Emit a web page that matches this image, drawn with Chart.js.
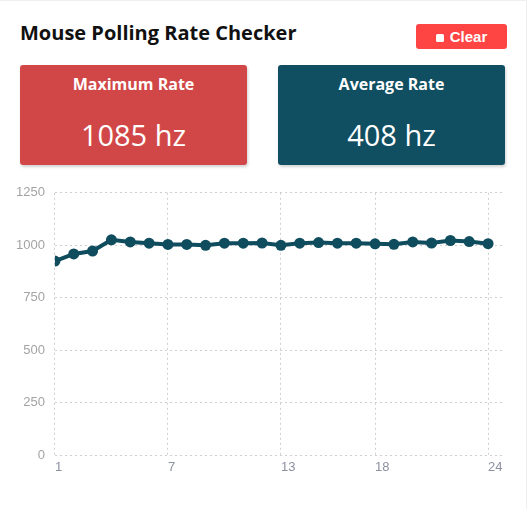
<!DOCTYPE html>
<html>
<head>
<meta charset="utf-8">
<script src="https://cdn.jsdelivr.net/npm/chart.js@4/dist/chart.umd.min.js"></script>
<style>
  html, body { margin: 0; padding: 0; background: #ffffff; }
  body { width: 528px; height: 509px; position: relative; overflow: hidden; font-family: "Open Sans", "Noto Sans", sans-serif; }
  .frame { position: absolute; left: 0; top: 0; width: 527px; height: 509px; border-top: 1px solid #efefef; border-right: 1px solid #efefef; box-sizing: border-box; }
  h1 { position: absolute; left: 20px; top: 19px; margin: 0; font-size: 20px; font-weight: 700; color: #111; letter-spacing: 0; }
  .btn { position: absolute; left: 416px; top: 24px; width: 91px; height: 25px; background: #ff4444; border-radius: 3px; color: #fff; font-family: "Liberation Sans", Arial, sans-serif; font-weight: 700; font-size: 15px; line-height: 25px; text-align: center; }
  .btn .sq { display: inline-block; width: 8px; height: 8px; background: #fff; border-radius: 1.5px; margin-right: 6px; vertical-align: 0px; }
  .card { position: absolute; top: 65px; width: 227px; height: 100px; border-radius: 3px; color: #fff; text-align: center; box-shadow: 1px 2px 3px rgba(0,0,0,0.18); }
  .card .lbl { position: absolute; left: 0; right: 0; top: 8px; font-size: 16px; font-weight: 700; }
  .card .val { position: absolute; left: 0; right: 0; top: 50px; font-size: 29px; font-weight: 400; }
  .red { left: 20px; background: #d14747; }
  .teal { left: 278px; background: #104e61; }
  .chartbox { position: absolute; left: 0; top: 175px; width: 528px; height: 310px; }
</style>
</head>
<body>
<div class="frame"></div>
<h1>Mouse Polling Rate Checker</h1>
<div class="btn"><span class="sq"></span>Clear</div>
<div class="card red"><div class="lbl">Maximum Rate</div><div class="val" id="maxv"></div></div>
<div class="card teal"><div class="lbl">Average Rate</div><div class="val" id="avgv"></div></div>
<div class="chartbox"><canvas id="c"></canvas></div>
<script>
// Data
const sampleIndex = [1,2,3,4,5,6,7,8,9,10,11,12,13,14,15,16,17,18,19,20,21,22,23,24];
const pollingRate = [925,959,973,1026,1016,1010,1004,1004,1000,1010,1010,1011,1000,1010,1013,1010,1010,1007,1005,1016,1011,1023,1018,1008];
const xTickValues = [1, 7, 13, 18, 24];
const yTickValues = [0, 250, 500, 750, 1000, 1250];
const maxRate = 1085;
const avgRate = 408;

document.getElementById('maxv').textContent = maxRate + ' hz';
document.getElementById('avgv').textContent = avgRate + ' hz';

const lineColor = '#0f4d5e';
const points = sampleIndex.map((x, i) => ({ x: x, y: pollingRate[i] }));

new Chart(document.getElementById('c'), {
  type: 'line',
  data: {
    datasets: [{
      data: points,
      borderColor: lineColor,
      backgroundColor: lineColor,
      borderWidth: 4,
      pointRadius: 5.5,
      pointBackgroundColor: lineColor,
      pointBorderColor: lineColor,
      pointBorderWidth: 0,
      tension: 0,
      fill: false
    }]
  },
  options: {
    responsive: true,
    maintainAspectRatio: false,
    animation: false,
    layout: { padding: { top: 16, left: 6, right: 23, bottom: 6 } },
    plugins: { legend: { display: false }, tooltip: { enabled: false } },
    scales: {
      x: {
        type: 'linear',
        min: 1,
        max: 24.9,
        afterBuildTicks: (axis) => { axis.ticks = xTickValues.map(v => ({ value: v })); },
        grid: { color: '#cfcfcf', lineWidth: 1, drawTicks: false },
        border: { display: false, dash: [2, 3] },
        ticks: { align: 'start', padding: 4, color: '#8c91a0', font: { size: 13 }, callback: (v) => String(v) }
      },
      y: {
        min: 0,
        max: 1250,
        afterBuildTicks: (axis) => { axis.ticks = yTickValues.map(v => ({ value: v })); },
        grid: { color: '#cfcfcf', lineWidth: 1, drawTicks: false },
        border: { display: false, dash: [2, 3] },
        ticks: { padding: 10, color: '#a3a3a3', font: { size: 13 }, callback: (v) => String(v) }
      }
    }
  }
});
</script>
</body>
</html>
